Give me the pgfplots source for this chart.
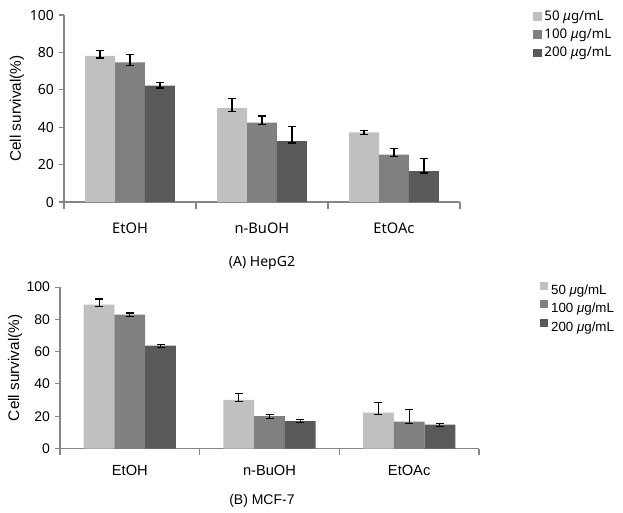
\documentclass[border=0pt]{standalone}
\usepackage{fontspec}
\setmainfont{Liberation Sans}
\newfontfamily\nsans{Noto Sans}
\usepackage{pgfplots}
\pgfplotsset{compat=1.18}
\definecolor{cA}{RGB}{192,192,192}
\definecolor{cB}{RGB}{128,128,128}
\definecolor{cC}{RGB}{89,89,89}
\definecolor{axgray}{RGB}{134,134,134}
\pgfplotsset{mybar/.style={
  scale only axis, clip=false,
  ybar=0pt,
  ymin=0, ymax=100, ytick={0,20,...,100},
  xmin=-0.5, xmax=2.5,
  xtick={0,1,2}, xticklabels={EtOH,n-BuOH,EtOAc},
  minor xtick={-0.5,0.5,1.5,2.5},
  axis x line*=bottom, axis y line*=left,
  axis line style={axgray, line width=0.8pt},
  major x tick style={draw=none},
  minor x tick style={axgray, line width=0.8pt},
  y tick style={axgray, line width=0.8pt},
  tick align=outside, major tick length=4pt, minor tick length=5pt,
  error bars/y dir=both, error bars/y explicit,
  error bars/error bar style={black, line width=0.9pt},
  error bars/error mark options={rotate=90, black, mark size=3pt, line width=0.9pt},
  /pgf/number format/assume math mode=true,
  legend cell align=left,
  legend style={draw=none, fill=none, anchor=north west, row sep=1pt, inner sep=0pt},
  every axis plot/.append style={draw=none},
}}
\begin{document}
\begin{tikzpicture}
\useasboundingbox (0,0) rectangle (467.25pt,384pt);
% ---------- (A) HepG2 ----------
\begin{axis}[mybar,
  at={(48pt,232.5pt)}, anchor=south west,
  width=297pt, height=140.25pt,
  bar width=0.227,
  yticklabel style={font=\nsans\fontsize{10.5}{12}\selectfont},
  xticklabel style={font=\nsans\fontsize{11}{13}\selectfont, yshift=-8pt},
  ylabel={Cell survival(\%)},
  every axis y label/.style={at={(axis description cs:-0.119,0.5)}, rotate=90, anchor=center, font=\fontsize{11.5}{13}\selectfont},
  legend image code/.code={\fill[#1] (0pt,-3.2pt) rectangle (6.5pt,3.3pt);},
  legend style={at={(axis description cs:1.184,1.04)}, font=\nsans\fontsize{10}{12.2}\selectfont},
]
\addplot[fill=cA] coordinates {(0,78.1) += (0,2.9) -= (0,1.1) (1,50.2) += (0,5.3) -= (0,1.8) (2,37.2) += (0,0.9) -= (0,0.9)};
\addplot[fill=cB] coordinates {(0,74.7) += (0,4.3) -= (0,1.7) (1,42.5) += (0,3.5) -= (0,1.2) (2,25.4) += (0,3.4) -= (0,1.0)};
\addplot[fill=cC] coordinates {(0,62.3) += (0,1.6) -= (0,1.3) (1,32.6) += (0,7.8) -= (0,1.1) (2,16.5) += (0,6.8) -= (0,1.0)};
\legend{50 {\itshape μ}g/mL, 100 {\itshape μ}g/mL, 200 {\itshape μ}g/mL}
\node[font=\nsans\fontsize{10.5}{12}\selectfont] at (axis description cs:0.5,-0.326) {(A) HepG2};
\end{axis}
% ---------- (B) MCF-7 ----------
\begin{axis}[mybar,
  at={(45pt,47.6pt)}, anchor=south west,
  width=314.25pt, height=121.1pt,
  bar width=0.22,
  yticklabel style={font=\fontsize{10.5}{12}\selectfont},
  xticklabel style={font=\fontsize{11}{13}\selectfont, yshift=-5pt},
  ylabel={Cell survival(\%)},
  every axis y label/.style={at={(axis description cs:-0.107,0.5)}, rotate=90, anchor=center, font=\fontsize{11.5}{13}\selectfont},
  legend image code/.code={\fill[#1] (0pt,0.5pt) rectangle (6pt,6.5pt);},
  legend style={at={(axis description cs:1.146,1.035)}, font=\fontsize{10}{12.2}\selectfont},
]
\addplot[fill=cA] coordinates {(0,89.1) += (0,3.5) -= (0,1.2) (1,30.1) += (0,4.1) -= (0,1.0) (2,22.3) += (0,6.2) -= (0,1.0)};
\addplot[fill=cB] coordinates {(0,83.0) += (0,1.0) -= (0,1.0) (1,20.0) += (0,0.9) -= (0,1.2) (2,16.6) += (0,7.6) -= (0,1.0)};
\addplot[fill=cC] coordinates {(0,63.7) += (0,0.8) -= (0,1.0) (1,17.0) += (0,1.0) -= (0,1.1) (2,14.8) += (0,0.8) -= (0,1.1)};
\legend{50 {\itshape μ}g/mL, 100 {\itshape μ}g/mL, 200 {\itshape μ}g/mL}
\node[font=\fontsize{10.5}{12}\selectfont] at (axis description cs:0.482,-0.325) {(B) MCF-7};
\end{axis}
\end{tikzpicture}
\end{document}
